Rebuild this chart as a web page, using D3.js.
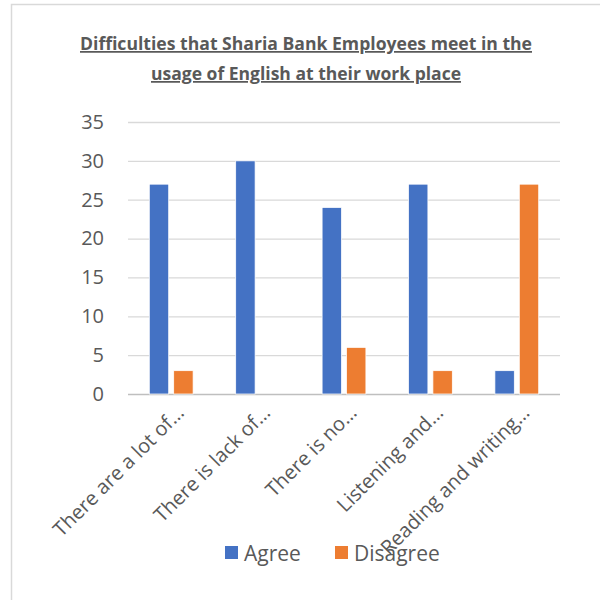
<!DOCTYPE html>
<html>
<head>
<meta charset="utf-8">
<script src="https://cdn.jsdelivr.net/npm/d3@7"></script>
<style>
  body { margin: 0; background: #fff; }
  text { font-family: "Open Sans", sans-serif; fill: #595959; }
</style>
</head>
<body>
<svg id="chart" width="600" height="600"></svg>
<script>
// Data
const categories = ['There are a lot of…', 'There is lack of…', 'There is no…', 'Listening and…', 'Reading and writing…'];
const seriesNames = ['Agree', 'Disagree'];
const agreeValues = [27, 30, 24, 27, 3];
const disagreeValues = [3, 0, 6, 3, 27];
const yTicks = [0, 5, 10, 15, 20, 25, 30, 35];
const titleLines = ['Difficulties that Sharia Bank Employees meet in the', 'usage of English at their work place'];

const colours = { Agree: '#4472C4', Disagree: '#ED7D31' };
const rows = categories.map((c, i) => ({ cat: c, Agree: agreeValues[i], Disagree: disagreeValues[i] }));

const svg = d3.select('#chart');
const margin = { left: 128, right: 40, top: 122, bottom: 206 };
const width = 600, height = 600;

// chart frame (only top and left edges show in the picture)
svg.append('rect')
    .attr('x', 11.5).attr('y', 4.5)
    .attr('width', 620).attr('height', 620)
    .attr('fill', 'none')
    .attr('stroke', '#d9d9d9')
    .attr('stroke-width', 1.5);

// Title
const titleWidths = [452, 310];
titleLines.forEach((line, i) => {
    svg.append('text')
        .attr('x', 306)
        .attr('y', 50 + i * 30)
        .attr('text-anchor', 'middle')
        .attr('font-size', 17.5)
        .attr('font-weight', 'bold')
        .attr('textLength', titleWidths[i])
        .attr('lengthAdjust', 'spacingAndGlyphs')
        .style('text-decoration', 'underline')
        .text(line);
});

const x0 = d3.scaleBand()
    .domain(categories)
    .range([margin.left, width - margin.right]);

const groupWidth = x0.bandwidth() * 0.507;
const x1 = d3.scaleBand()
    .domain(seriesNames)
    .range([(x0.bandwidth() - groupWidth) / 2, (x0.bandwidth() + groupWidth) / 2])
    .paddingInner(0.205);

const y = d3.scaleLinear()
    .domain([0, 35])
    .range([height - margin.bottom, margin.top]);

// gridlines + y labels
const yAxis = svg.append('g')
    .attr('transform', `translate(${margin.left},0)`)
    .call(d3.axisLeft(y).tickValues(yTicks).tickSize(-(width - margin.left - margin.right)).tickPadding(24));
yAxis.select('.domain').remove();
yAxis.selectAll('.tick line')
    .attr('stroke', d => d === 0 ? '#bfbfbf' : '#d9d9d9')
    .attr('stroke-width', 1.3);
yAxis.selectAll('.tick text')
    .attr('font-size', 20)
    .attr('font-family', '"Open Sans", sans-serif')
    .attr('fill', '#595959');

// bars
const groups = svg.append('g').selectAll('g').data(rows).join('g')
    .attr('transform', d => `translate(${x0(d.cat)},0)`);
groups.selectAll('rect')
    .data(d => seriesNames.map(s => ({ key: s, value: d[s] })))
    .join('rect')
    .attr('x', d => x1(d.key))
    .attr('width', x1.bandwidth())
    .attr('y', d => y(d.value))
    .attr('height', d => y(0) - y(d.value))
    .attr('fill', d => colours[d.key])
    .attr('stroke', '#fff')
    .attr('stroke-width', 0.75);

// category labels, rotated
svg.append('g').selectAll('text').data(categories).join('text')
    .attr('transform', d => `translate(${x0(d) + x0.bandwidth() / 2 + 14},${y(0) + 20}) rotate(-45)`)
    .attr('text-anchor', 'end')
    .attr('font-size', 20)
    .text(d => d);

// legend
const legendX = [225, 335];
const legend = svg.append('g').selectAll('g').data(seriesNames).join('g')
    .attr('transform', (d, i) => `translate(${legendX[i]},546)`);
legend.append('rect')
    .attr('width', 13).attr('height', 13)
    .attr('fill', d => colours[d]);
legend.append('text')
    .attr('x', 19).attr('y', 14.5)
    .attr('font-size', 21)
    .text(d => d);
</script>
</body>
</html>
